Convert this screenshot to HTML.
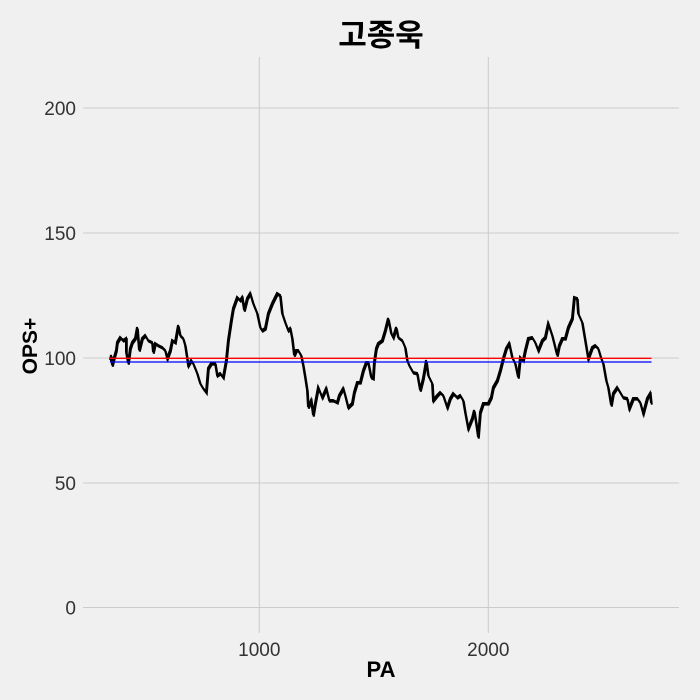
<!DOCTYPE html>
<html><head><meta charset="utf-8"><style>
html,body{margin:0;padding:0;background:#f0f0f0;}
svg{display:block;}
</style></head><body>
<svg width="700" height="700" viewBox="0 0 700 700" xmlns="http://www.w3.org/2000/svg">
<defs>
<polyline id="curve" fill="none" stroke="#000" stroke-width="2" stroke-linejoin="miter" points="110,360 111,355 112,365 114,357 116,350 117,342 120,337 123,340 126,338 126,352 128,363 130,348 132,342 135,338 137,327 139,350 142,338 145,335 148,340 152,342 153,352 155,343 158,345 162,347 165,350 167,358 170,350 172,340 175,342 178,325 180,335 183,338 185,345 187,358 188,365 191,360 193,363 197,373 200,383 203,388 206,392 208,368 211,363 215,363 217,375 220,373 223,377 226,360 228,340 231,320 233,308 237,297 240,300 242,297 244,310 247,298 250,293 253,303 257,313 260,327 262,330 265,328 268,313 272,303 277,293 280,295 282,313 285,322 288,330 290,328 292,338 294,355 296,350 298,350 301,355 303,365 305,377 307,390 308,407 311,400 313,415 315,403 318,387 322,397 326,388 329,400 333,400 337,402 339,395 343,388 345,395 348,407 352,403 354,392 357,382 360,382 363,370 366,362 368,362 371,377 373,378 374,362 376,348 378,343 382,340 385,330 388,318 391,333 393,337 396,327 398,337 402,340 405,347 407,360 409,365 413,372 417,373 420,390 423,378 426,360 428,375 432,383 433,400 437,395 440,392 443,395 447,407 450,398 453,393 457,397 460,395 463,400 465,412 468,428 472,418 474,410 476,423 478,437 480,412 483,403 488,403 491,397 493,387 497,380 500,370 503,358 506,348 509,343 512,357 515,363 518,377 520,357 523,360 525,350 528,338 532,337 535,342 538,350 542,340 545,337 548,323 552,335 554,343 557,355 559,345 562,338 565,338 568,327 572,318 574,297 577,298 578,313 582,322 585,340 588,358 592,347 595,345 598,348 601,358 603,363 606,380 608,387 611,405 613,393 617,387 620,392 623,397 627,398 629,408 633,398 637,398 640,402 643,413 647,398 650,393 651,403"/>
</defs>
<rect width="700" height="700" fill="#f0f0f0"/>
<g stroke="#cbcbcb" stroke-width="1">
<line x1="83" y1="108" x2="679" y2="108"/>
<line x1="83" y1="233" x2="679" y2="233"/>
<line x1="83" y1="358" x2="679" y2="358"/>
<line x1="83" y1="483" x2="679" y2="483"/>
<line x1="83" y1="607.5" x2="679" y2="607.5"/>
<line x1="259.3" y1="57" x2="259.3" y2="633"/>
<line x1="488.3" y1="57" x2="488.3" y2="633"/>
</g>
<g font-family="Liberation Sans, sans-serif" font-size="19" fill="#333" text-anchor="end">
<text x="76" y="115">200</text>
<text x="76" y="240">150</text>
<text x="76" y="365">100</text>
<text x="76" y="490">50</text>
<text x="76" y="614.5">0</text>
</g>
<g font-family="Liberation Sans, sans-serif" font-size="19" fill="#333" text-anchor="middle">
<text x="259.3" y="656">1000</text>
<text x="488.3" y="656">2000</text>
</g>
<text x="381" y="46" font-family="Liberation Sans, 'Noto Sans CJK KR', sans-serif" font-weight="bold" font-size="31" text-anchor="middle" fill="#000">고종욱</text>
<text x="381" y="677" font-family="Liberation Sans, sans-serif" font-weight="bold" font-size="22" text-anchor="middle" fill="#000">PA</text>
<text transform="translate(37,346) rotate(-90)" font-family="Liberation Sans, sans-serif" font-weight="bold" font-size="21" text-anchor="middle" fill="#000">OPS+</text>
<use href="#curve"/>
<use href="#curve" transform="translate(0.8,1.6)"/>
<line x1="110" y1="358.3" x2="651.5" y2="358.3" stroke="#ff0000" stroke-width="1.3"/>
<line x1="110" y1="362" x2="651.5" y2="362" stroke="#0000ff" stroke-width="1.3"/>
</svg>
</body></html>
